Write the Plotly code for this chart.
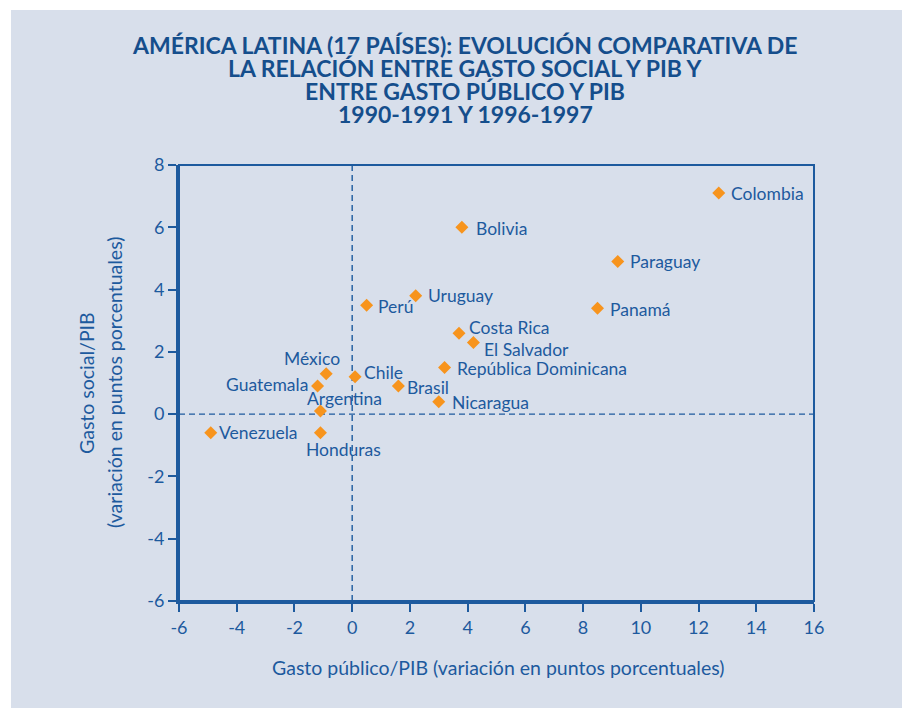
import plotly.graph_objects as go

countries = ["Colombia", "Bolivia", "Paraguay", "Uruguay", "Perú", "Panamá",
             "Costa Rica", "El Salvador", "República Dominicana", "México",
             "Chile", "Guatemala", "Brasil", "Nicaragua", "Argentina",
             "Venezuela", "Honduras"]
gasto_publico = [12.7, 3.8, 9.2, 2.2, 0.5, 8.5, 3.7, 4.2, 3.2, -0.9,
                 0.1, -1.2, 1.6, 3.0, -1.1, -4.9, -1.1]
gasto_social = [7.1, 6.0, 4.9, 3.8, 3.5, 3.4, 2.6, 2.3, 1.5, 1.3,
                1.2, 0.9, 0.9, 0.4, 0.1, -0.6, -0.6]
x_ticks = list(range(-6, 17, 2))
y_ticks = list(range(-6, 9, 2))

title_lines = ["AMÉRICA LATINA (17 PAÍSES): EVOLUCIÓN COMPARATIVA DE",
               "LA RELACIÓN ENTRE GASTO SOCIAL Y PIB Y",
               "ENTRE GASTO PÚBLICO Y PIB",
               "1990-1991 Y 1996-1997"]
x_title = "Gasto público/PIB (variación en puntos porcentuales)"
y_title_1 = "Gasto social/PIB"
y_title_2 = "(variación en puntos porcentuales)"

BLUE = "#1d5a9e"
DARK = "#154e8c"
ORANGE = "#f7941d"
BG = "#d8dfeb"
FONT = "Lato, 'Noto Sans', sans-serif"

# label placement: (xanchor, xshift, yshift)
label_pos = {
    "Colombia": ("left", 10, 0),
    "Bolivia": ("left", 12, -1),
    "Paraguay": ("left", 10, 0),
    "Uruguay": ("left", 10, 0),
    "Perú": ("left", 9, -1),
    "Panamá": ("left", 10, -1),
    "Costa Rica": ("left", 8, 6),
    "El Salvador": ("left", 9, -7),
    "República Dominicana": ("left", 10, -1),
    "México": ("center", -14, 15),
    "Chile": ("left", 7, 4),
    "Guatemala": ("right", -8, 2),
    "Brasil": ("left", 7, -1),
    "Nicaragua": ("left", 11, -1),
    "Argentina": ("center", 24, 13),
    "Venezuela": ("left", 6, 0),
    "Honduras": ("center", 23, -17),
}

fig = go.Figure()
fig.add_trace(go.Scatter(
    x=gasto_publico, y=gasto_social, mode="markers",
    marker=dict(symbol="diamond", size=10, color=ORANGE, line=dict(width=0)),
    hoverinfo="text", text=countries, showlegend=False,
))

annotations = []
for name, xv, yv in zip(countries, gasto_publico, gasto_social):
    anchor, dx, dy = label_pos[name]
    annotations.append(dict(
        x=xv, y=yv, xref="x", yref="y", text=name, showarrow=False,
        xanchor=anchor, yanchor="middle", xshift=dx, yshift=dy,
        font=dict(family=FONT, size=17.5, color=BLUE),
    ))

title_y = [45, 68, 91, 114]
for line, py in zip(title_lines, title_y):
    annotations.append(dict(
        x=(465 - 179) / 635, y=(601 - py) / 436, xref="paper", yref="paper",
        text="<b>" + line + "</b>", showarrow=False, xanchor="center", yanchor="middle",
        font=dict(family=FONT, size=23, color=DARK),
    ))

annotations.append(dict(
    x=(498 - 179) / 635, y=(601 - 667) / 436, xref="paper", yref="paper",
    text=x_title, showarrow=False, xanchor="center", yanchor="middle",
    font=dict(family=FONT, size=19.5, color=BLUE),
))
annotations.append(dict(
    x=(86 - 179) / 635, y=0.5, xref="paper", yref="paper", textangle=-90,
    text=y_title_1, showarrow=False, xanchor="center", yanchor="middle",
    font=dict(family=FONT, size=19.5, color=BLUE),
))
annotations.append(dict(
    x=(114 - 179) / 635, y=0.5, xref="paper", yref="paper", textangle=-90,
    text=y_title_2, showarrow=False, xanchor="center", yanchor="middle",
    font=dict(family=FONT, size=19.5, color=BLUE),
))

shapes = [
    # grey panel (white strip left/top outside it)
    dict(type="rect", xref="paper", yref="paper",
         x0=(11 - 179) / 635, x1=(905 - 179) / 635,
         y0=(601 - 712) / 436, y1=(601 - 10) / 436,
         fillcolor=BG, line=dict(width=0), layer="below"),
    # frame top/right
    dict(type="rect", xref="paper", yref="paper", x0=0, x1=1, y0=0, y1=1,
         line=dict(color=BLUE, width=2), layer="above"),
    # zero lines
    dict(type="line", xref="x", yref="paper", x0=0, x1=0, y0=0, y1=1,
         line=dict(color=BLUE, width=1.4, dash="6px,4px"), layer="below"),
    dict(type="line", xref="paper", yref="y", x0=0, x1=1, y0=0, y1=0,
         line=dict(color=BLUE, width=1.4, dash="6px,4px"), layer="below"),
]

axis_common = dict(
    showgrid=False, zeroline=False, showline=True, linecolor=BLUE, linewidth=3,
    ticks="outside", ticklen=8, tickwidth=2, tickcolor=BLUE,
    tickfont=dict(family=FONT, size=18, color=BLUE), mirror=False,
)

fig.update_layout(
    width=902, height=708,
    margin=dict(l=179, r=88, t=165, b=107),
    paper_bgcolor="white", plot_bgcolor="white",
    xaxis=dict(range=[-6, 16], tickvals=x_ticks, ticktext=[str(v) for v in x_ticks], **axis_common),
    yaxis=dict(range=[-6, 8], tickvals=y_ticks, ticktext=[str(v) for v in y_ticks], **axis_common),
    annotations=annotations,
    shapes=shapes,
    showlegend=False,
)

fig.write_html(
    "out.html",
    config={"displayModeBar": False},
    post_script="document.body.style.margin='0px';document.body.style.overflow='hidden';",
)
